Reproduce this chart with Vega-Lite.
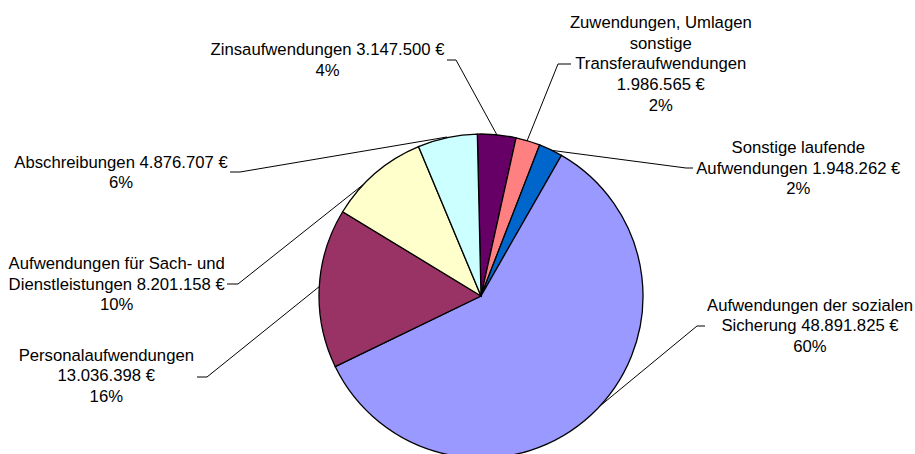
{
  "$schema": "https://vega.github.io/schema/vega-lite/v6.json",
  "width": 915,
  "height": 454,
  "padding": 0,
  "autosize": {"type": "none"},
  "background": "white",
  "config": {"view": {"stroke": null}},
  "datasets": {
    "slices": [
      {"i": 1, "name": "Zinsaufwendungen", "value": 3147500},
      {"i": 2, "name": "Zuwendungen, Umlagen sonstige Transferaufwendungen", "value": 1986565},
      {"i": 3, "name": "Sonstige laufende Aufwendungen", "value": 1948262},
      {"i": 4, "name": "Aufwendungen der sozialen Sicherung", "value": 48891825},
      {"i": 5, "name": "Personalaufwendungen", "value": 13036398},
      {"i": 6, "name": "Aufwendungen für Sach- und Dienstleistungen", "value": 8201158},
      {"i": 7, "name": "Abschreibungen", "value": 4876707}
    ],
    "labels": [
      {"name": "Zinsaufwendungen", "lx": -153.5, "ly": 241, "label": "Zinsaufwendungen 3.147.500 €\n4%"},
      {"name": "Zuwendungen", "lx": 179.8, "ly": 267.7, "label": "Zuwendungen, Umlagen\nsonstige\nTransferaufwendungen\n1.986.565 €\n2%"},
      {"name": "Sonstige", "lx": 317.3, "ly": 142.7, "label": "Sonstige laufende\nAufwendungen 1.948.262 €\n2%"},
      {"name": "Sozial", "lx": 329, "ly": -14.7, "label": "Aufwendungen der sozialen\nSicherung 48.891.825 €\n60%"},
      {"name": "Personal", "lx": -374.7, "ly": -64.7, "label": "Personalaufwendungen\n13.036.398 €\n16%"},
      {"name": "Sach", "lx": -364.3, "ly": 26.7, "label": "Aufwendungen für Sach- und\nDienstleistungen 8.201.158 €\n10%"},
      {"name": "Abschreibungen", "lx": -360, "ly": 128.3, "label": "Abschreibungen 4.876.707 €\n6%"}
    ],
    "leaders": [
      {"name": "Zins", "p": 1, "px": -34, "py": 236},
      {"name": "Zins", "p": 2, "px": -25, "py": 236},
      {"name": "Zins", "p": 3, "px": 16, "py": 161},
      {"name": "Zuw", "p": 1, "px": 90, "py": 232},
      {"name": "Zuw", "p": 2, "px": 77, "py": 232},
      {"name": "Zuw", "p": 3, "px": 46, "py": 155},
      {"name": "Sonst", "p": 1, "px": 212, "py": 128},
      {"name": "Sonst", "p": 2, "px": 205, "py": 128},
      {"name": "Sonst", "p": 3, "px": 68, "py": 146},
      {"name": "Sozial", "p": 1, "px": 224, "py": -30},
      {"name": "Sozial", "p": 2, "px": 216, "py": -30},
      {"name": "Sozial", "p": 3, "px": 119, "py": -110},
      {"name": "Personal", "p": 1, "px": -284, "py": -81},
      {"name": "Personal", "p": 2, "px": -274, "py": -81},
      {"name": "Personal", "p": 3, "px": -161, "py": 10},
      {"name": "Sach", "p": 1, "px": -254, "py": 12},
      {"name": "Sach", "p": 2, "px": -243, "py": 12},
      {"name": "Sach", "p": 3, "px": -107, "py": 120},
      {"name": "Abschr", "p": 1, "px": -251, "py": 124},
      {"name": "Abschr", "p": 2, "px": -241, "py": 124},
      {"name": "Abschr", "p": 3, "px": -34, "py": 159}
    ]
  },
  "layer": [
    {
      "data": {"name": "leaders"},
      "mark": {"type": "line", "color": "black", "strokeWidth": 1, "interpolate": "linear"},
      "encoding": {
        "x": {"field": "px", "type": "quantitative", "scale": {"domain": [-481, 434], "nice": false, "zero": false}, "axis": null},
        "y": {"field": "py", "type": "quantitative", "scale": {"domain": [-158, 296], "nice": false, "zero": false}, "axis": null},
        "detail": {"field": "name"},
        "order": {"field": "p"}
      }
    },
    {
      "data": {"name": "slices"},
      "mark": {"type": "arc", "outerRadius": 162, "stroke": "black", "strokeWidth": 1.3},
      "encoding": {
        "x": {"datum": 0, "type": "quantitative"},
        "y": {"datum": 0, "type": "quantitative"},
        "theta": {"field": "value", "type": "quantitative", "stack": true, "scale": {"range": [-0.0227, 6.2605]}},
        "order": {"field": "i"},
        "color": {
          "field": "name",
          "type": "nominal",
          "legend": null,
          "scale": {
            "domain": ["Zinsaufwendungen", "Zuwendungen, Umlagen sonstige Transferaufwendungen", "Sonstige laufende Aufwendungen", "Aufwendungen der sozialen Sicherung", "Personalaufwendungen", "Aufwendungen für Sach- und Dienstleistungen", "Abschreibungen"],
            "range": ["#660066", "#FF8080", "#0066CC", "#9999FF", "#993366", "#FFFFCC", "#CCFFFF"]
          }
        }
      }
    },
    {
      "data": {"name": "labels"},
      "mark": {"type": "text", "align": "center", "baseline": "alphabetic", "lineBreak": "\n", "lineHeight": 20.6, "font": "Liberation Sans", "fontSize": 16.7, "color": "black"},
      "encoding": {
        "x": {"field": "lx", "type": "quantitative"},
        "y": {"field": "ly", "type": "quantitative"},
        "text": {"field": "label", "type": "nominal"}
      }
    }
  ]
}
